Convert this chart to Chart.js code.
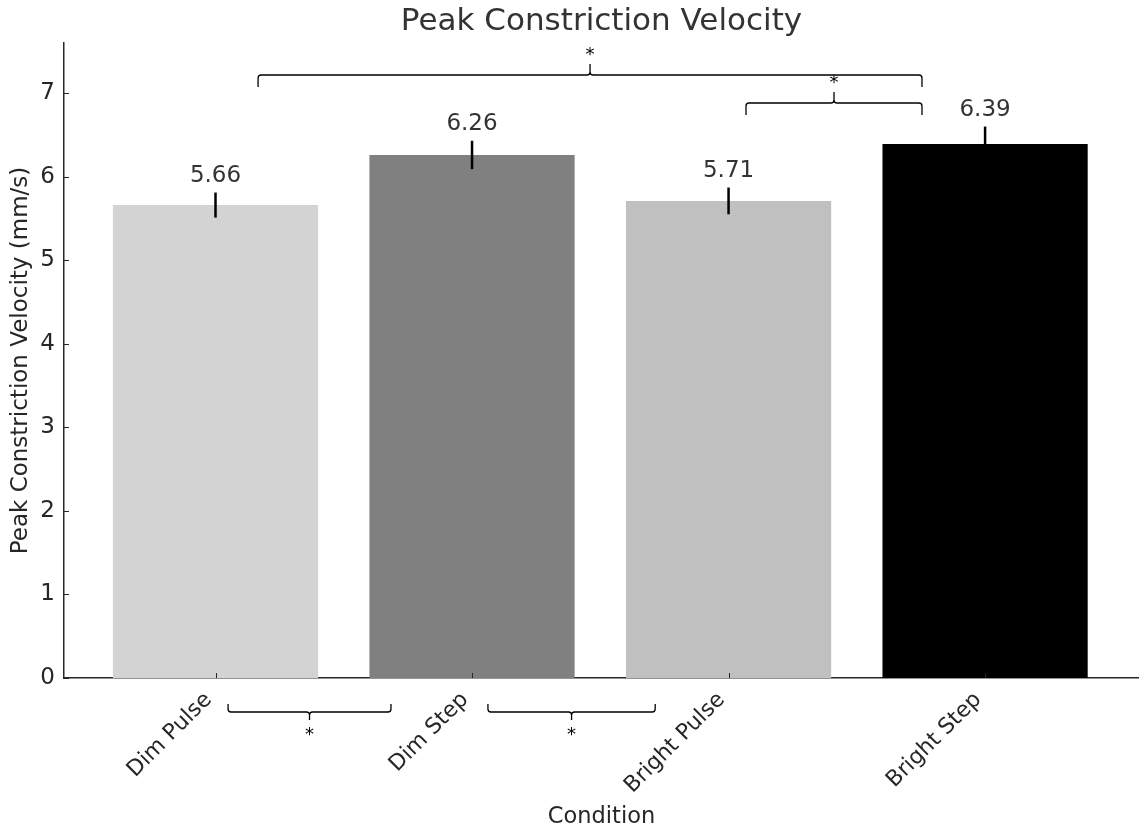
<!DOCTYPE html>
<html>
<head>
<meta charset="utf-8">
<script src="https://cdn.jsdelivr.net/npm/chart.js@4.4.0/dist/chart.umd.min.js"></script>
<style>
  html, body { margin: 0; padding: 0; background: #fff; }
  #wrap { width: 1139px; height: 828px; }
</style>
</head>
<body>
<div id="wrap"><canvas id="chart" width="1139" height="828"></canvas></div>
<script>
const conditions = ["Dim Pulse", "Dim Step", "Bright Pulse", "Bright Step"];
const velocity = [5.66, 6.26, 5.71, 6.39];
const velocityErr = [0.15, 0.17, 0.16, 0.21];
const barColors = ["#d3d3d3", "#808080", "#c0c0c0", "#000000"];
const yTicks = [0, 1, 2, 3, 4, 5, 6, 7];

// significance brackets: from/to in category units, y in mm/s
const topBrackets = [
    { from: 0.166, to: 2.754, y: 7.217 },
    { from: 2.068, to: 2.754, y: 6.882 }
];
const bottomBrackets = [
    { from: 0.049, to: 0.684, y: -0.407 },
    { from: 1.062, to: 1.714, y: -0.407 }
];

const FONT = "'DejaVu Sans', sans-serif";
const INK = "#262626";

// dir -1: stem points up, ends hang down; dir 1: the other way round
function drawBracket(ctx, x0, x1, y, dir, endLen, stemLen) {
    const xm = (x0 + x1) / 2;
    const r = 3;
    ctx.beginPath();
    ctx.moveTo(x0, y - dir * endLen);
    ctx.lineTo(x0, y - dir * r);
    ctx.quadraticCurveTo(x0, y, x0 + r, y);
    ctx.lineTo(xm - r, y);
    ctx.quadraticCurveTo(xm, y, xm, y + dir * r);
    ctx.lineTo(xm, y + dir * stemLen);
    ctx.moveTo(xm, y + dir * r);
    ctx.quadraticCurveTo(xm, y, xm + r, y);
    ctx.lineTo(x1 - r, y);
    ctx.quadraticCurveTo(x1, y, x1, y - dir * r);
    ctx.lineTo(x1, y - dir * endLen);
    ctx.stroke();
    return xm;
}

const extras = {
    id: "extras",
    afterDraw(chart) {
        const ctx = chart.ctx;
        const xs = chart.scales.x;
        const ys = chart.scales.y;
        const area = chart.chartArea;
        ctx.save();

        // inward tick marks
        ctx.strokeStyle = INK;
        ctx.lineWidth = 1;
        yTicks.forEach(v => {
            const py = Math.round(ys.getPixelForValue(v)) + 0.5;
            ctx.beginPath();
            ctx.moveTo(area.left, py);
            ctx.lineTo(area.left + 5, py);
            ctx.stroke();
        });
        conditions.forEach((c, i) => {
            const px = Math.round(xs.getPixelForValue(i)) + 0.5;
            ctx.beginPath();
            ctx.moveTo(px, area.bottom);
            ctx.lineTo(px, area.bottom - 5);
            ctx.stroke();
        });

        // error bars and value labels
        ctx.font = "23px " + FONT;
        ctx.textAlign = "center";
        ctx.textBaseline = "alphabetic";
        velocity.forEach((v, i) => {
            const px = xs.getPixelForValue(i);
            const top = ys.getPixelForValue(v + velocityErr[i]);
            const bot = ys.getPixelForValue(v - velocityErr[i]);
            ctx.strokeStyle = "#000";
            ctx.lineWidth = 2.5;
            ctx.beginPath();
            ctx.moveTo(px, top);
            ctx.lineTo(px, bot);
            ctx.stroke();
            ctx.fillStyle = "#333";
            ctx.fillText(v.toFixed(2), px, top - 11);
        });

        // significance brackets
        ctx.strokeStyle = "#000";
        ctx.fillStyle = "#000";
        ctx.lineWidth = 1.3;
        ctx.font = "18px " + FONT;
        topBrackets.forEach(b => {
            const y = ys.getPixelForValue(b.y);
            const xm = drawBracket(ctx, xs.getPixelForValue(b.from), xs.getPixelForValue(b.to), y, -1, 12, 11);
            ctx.fillText("*", xm, y - 11 - 4);
        });
        bottomBrackets.forEach(b => {
            const y = ys.getPixelForValue(b.y);
            const xm = drawBracket(ctx, xs.getPixelForValue(b.from), xs.getPixelForValue(b.to), y, 1, 8, 8);
            ctx.fillText("*", xm, y + 8 + 20);
        });

        // titles
        ctx.fillStyle = "#333";
        ctx.font = "31px " + FONT;
        ctx.textBaseline = "middle";
        ctx.fillText("Peak Constriction Velocity", (area.left + area.right) / 2, 22);

        ctx.font = "22.5px " + FONT;
        ctx.fillStyle = INK;
        ctx.textBaseline = "alphabetic";
        ctx.fillText("Condition", (area.left + area.right) / 2, 823);

        ctx.translate(21, (area.top + area.bottom) / 2);
        ctx.rotate(-Math.PI / 2);
        ctx.font = "23px " + FONT;
        ctx.textBaseline = "middle";
        ctx.fillText("Peak Constriction Velocity (mm/s)", 0, 0);

        ctx.restore();
    }
};

new Chart(document.getElementById("chart"), {
    type: "bar",
    data: {
        datasets: [{
            data: velocity.map((v, i) => ({ x: i, y: v })),
            backgroundColor: barColors,
            borderWidth: 0,
            barPercentage: 0.8,
            categoryPercentage: 1.0
        }]
    },
    options: {
        responsive: false,
        animation: false,
        layout: { padding: { top: 43, left: 0, right: 0, bottom: 0 } },
        plugins: {
            legend: { display: false },
            tooltip: { enabled: false },
            title: { display: false }
        },
        scales: {
            x: {
                type: "linear",
                offset: false,
                min: -0.5906,
                max: 3.6,
                grid: { display: false, drawTicks: false, offset: false },
                border: { color: INK, width: 1.5 },
                afterBuildTicks: s => { s.ticks = conditions.map((c, i) => ({ value: i })); },
                afterFit: s => { s.height = 150; },
                ticks: {
                    autoSkip: false,
                    minRotation: 45,
                    maxRotation: 45,
                    padding: 9,
                    labelOffset: -7,
                    color: INK,
                    font: { family: FONT, size: 22 },
                    callback: v => conditions[v]
                }
            },
            y: {
                min: 0,
                max: 7.6,
                grid: { display: false, drawTicks: false },
                border: { color: INK, width: 1.5 },
                afterBuildTicks: s => { s.ticks = yTicks.map(v => ({ value: v })); },
                afterFit: s => { s.width = 64; },
                ticks: {
                    padding: 9,
                    color: INK,
                    font: { family: FONT, size: 23 }
                }
            }
        }
    },
    plugins: [extras]
});
</script>
</body>
</html>
